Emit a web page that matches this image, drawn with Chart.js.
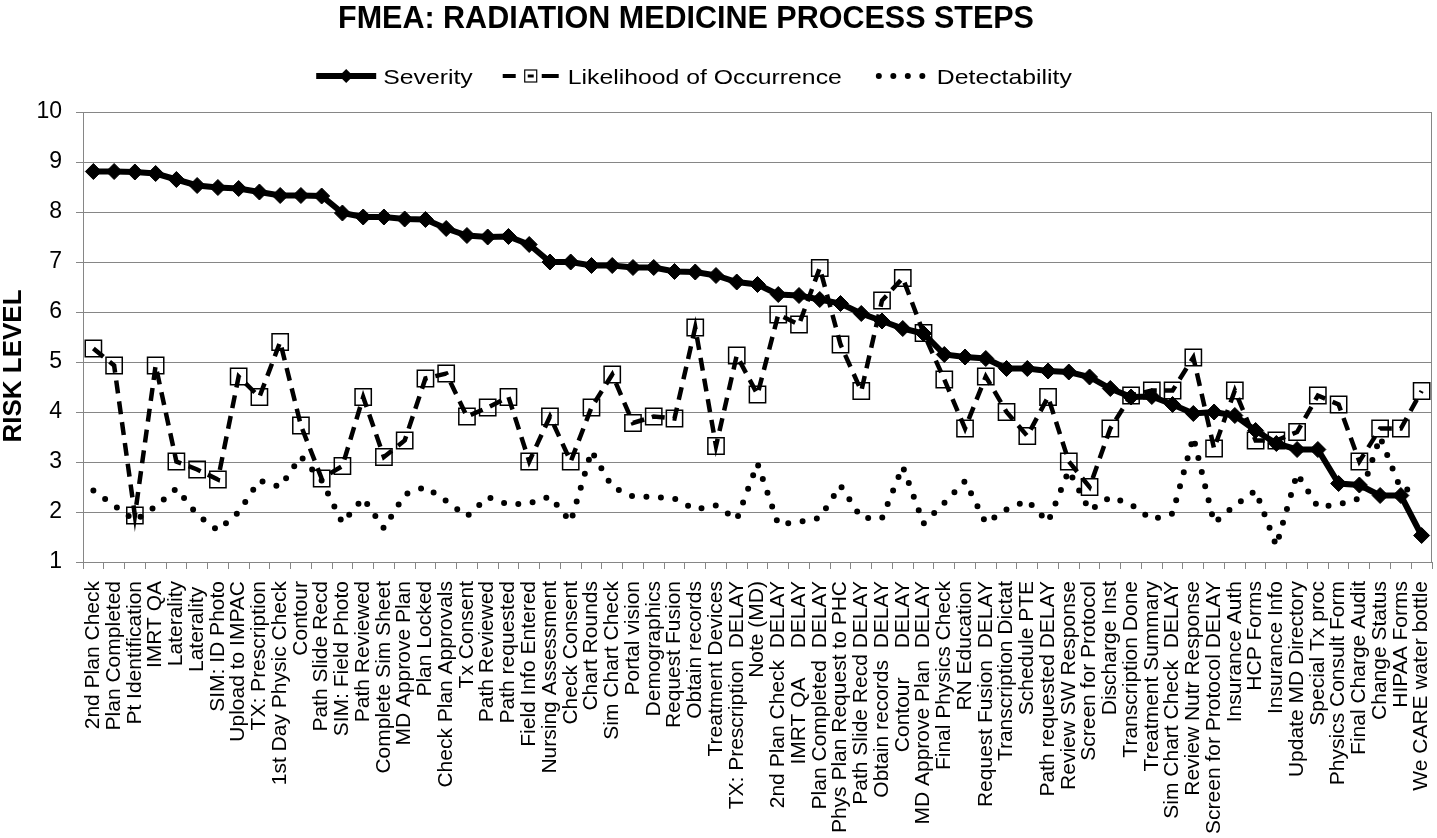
<!DOCTYPE html>
<html>
<head>
<meta charset="utf-8">
<script src="https://cdn.jsdelivr.net/npm/chart.js@4.4.1/dist/chart.umd.min.js"></script>
<style>
html,body{margin:0;padding:0;background:#fff;overflow:hidden;}
#wrap{width:1437px;height:838px;position:relative;}
</style>
</head>
<body>
<div id="wrap"><canvas id="c"></canvas></div>
<script>
const chartTitle = 'FMEA: RADIATION MEDICINE PROCESS STEPS';
const yAxisTitle = 'RISK LEVEL';
const seriesNames = ['Severity', 'Likelihood of Occurrence', 'Detectability'];

const categories = [
  '2nd Plan Check', 'Plan Completed', 'Pt Identification', 'IMRT QA', 'Laterality', 'Laterality ',
  'SIM: ID Photo', 'Upload to IMPAC', 'TX: Prescription', '1st Day Physic Check', 'Contour',
  'Path Slide Recd', 'SIM: Field Photo', 'Path Reviewed', 'Complete Sim Sheet', 'MD Approve Plan',
  'Plan Locked', 'Check Plan Approvals', 'Tx Consent', 'Path Reviewed', 'Path requested',
  'Field Info Entered', 'Nursing Assessment', 'Check Consent', 'Chart Rounds', 'Sim Chart Check',
  'Portal vision', 'Demographics', 'Request Fusion', 'Obtain records', 'Treatment Devices',
  'TX: Prescription  DELAY', 'Note (MD)', '2nd Plan Check  DELAY', 'IMRT QA     DELAY',
  'Plan Completed  DELAY', 'Phys Plan Request to PHC', 'Path Slide Recd DELAY', 'Obtain records  DELAY',
  'Contour     DELAY', 'MD Approve Plan  DELAY', 'Final Physics Check', 'RN Education',
  'Request Fusion  DELAY', 'Transcription Dictat', 'Schedule PTE', 'Path requested DELAY',
  'Review SW Response', 'Screen for Protocol', 'Discharge Inst', 'Transcription Done',
  'Treatment Summary', 'Sim Chart Check  DELAY', 'Review Nutr Response', 'Screen for Protocol DELAY',
  'Insurance Auth', 'HCP Forms', 'Insurance Info', 'Update MD Directory', 'Special Tx proc',
  'Physics Consult Form', 'Final Charge Audit', 'Change Status', 'HIPAA Forms', 'We CARE water bottle'
];

const severity = [
  8.81, 8.81, 8.80, 8.77, 8.65, 8.53, 8.49, 8.47, 8.40, 8.33,
  8.33, 8.32, 7.98, 7.90, 7.90, 7.86, 7.85, 7.67, 7.53, 7.50,
  7.51, 7.35, 7.00, 7.00, 6.93, 6.93, 6.89, 6.89, 6.81, 6.80,
  6.73, 6.60, 6.55, 6.35, 6.33, 6.25, 6.17, 5.97, 5.82, 5.67,
  5.57, 5.15, 5.10, 5.07, 4.87, 4.87, 4.82, 4.80, 4.70, 4.47,
  4.30, 4.31, 4.15, 3.97, 4.00, 3.93, 3.63, 3.37, 3.25, 3.25,
  2.57, 2.54, 2.33, 2.33, 1.53
];

const likelihood = [
  5.27, 4.93, 1.93, 4.93, 3.01, 2.85, 2.65, 4.71, 4.30, 5.40,
  3.73, 2.67, 2.92, 4.30, 3.10, 3.43, 4.67, 4.77, 3.91, 4.09,
  4.30, 3.01, 3.91, 3.01, 4.09, 4.75, 3.78, 3.91, 3.87, 5.69,
  3.32, 5.13, 4.35, 5.95, 5.75, 6.88, 5.35, 4.42, 6.23, 6.68,
  5.58, 4.65, 3.67, 4.71, 4.00, 3.52, 4.30, 3.01, 2.50, 3.67,
  4.33, 4.43, 4.43, 5.09, 3.27, 4.43, 3.43, 3.43, 3.60, 4.33,
  4.15, 3.01, 3.67, 3.67, 4.42
];

const detectability = [
  2.43, 2.13, 1.83, 2.11, 2.47, 1.95, 1.63, 2.00, 2.63, 2.50,
  3.11, 2.63, 1.78, 2.28, 1.67, 2.35, 2.50, 2.22, 1.91, 2.30,
  2.15, 2.17, 2.31, 1.80, 3.22, 2.50, 2.31, 2.30, 2.27, 2.05,
  2.13, 1.85, 2.97, 1.75, 1.80, 1.88, 2.53, 1.88, 1.88, 2.91,
  1.77, 2.18, 2.62, 1.78, 2.05, 2.23, 1.80, 2.83, 2.03, 2.30,
  2.15, 1.85, 1.97, 3.50, 1.78, 2.13, 2.43, 1.32, 2.77, 2.10,
  2.15, 2.27, 3.50, 2.45, 2.45
];

const yTickValues = [1, 2, 3, 4, 5, 6, 7, 8, 9, 10];

const FONT = "'Liberation Sans', Arial, Helvetica, sans-serif";
const GRID = '#868686';
const ZERO_PAD = () => ({ left: 0, top: 0, right: 0, bottom: 0 });

const decor = {
  id: 'decor',
  afterDraw(chart) {
    const ctx = chart.ctx;
    const a = chart.chartArea;
    ctx.save();
    // right border of plot area
    ctx.strokeStyle = GRID;
    ctx.lineWidth = 1;
    ctx.beginPath();
    const rx = Math.round(a.right) - 0.5;
    ctx.moveTo(rx, a.top);
    ctx.lineTo(rx, a.bottom);
    ctx.stroke();

    // title
    ctx.fillStyle = '#000';
    ctx.font = 'bold 30.5px ' + FONT;
    ctx.textAlign = 'center';
    ctx.textBaseline = 'alphabetic';
    ctx.fillText(chartTitle, 686, 28);

    // y axis title
    ctx.save();
    ctx.translate(14, 366);
    ctx.rotate(-Math.PI / 2);
    ctx.font = 'bold 26px ' + FONT;
    ctx.textAlign = 'center';
    ctx.textBaseline = 'middle';
    ctx.fillText(yAxisTitle, 0, 0);
    ctx.restore();

    // legend
    const sx = 1.18, sw = 60, gapT = 7, gapI = 28, ly = 76;
    ctx.font = '21px ' + FONT;
    const widths = seriesNames.map(n => ctx.measureText(n).width * sx);
    let total = 0;
    widths.forEach((w, i) => { total += sw + gapT + w + (i < widths.length - 1 ? gapI : 0); });
    let x = 694 - total / 2;
    seriesNames.forEach((name, i) => {
      ctx.save();
      ctx.strokeStyle = '#000';
      ctx.fillStyle = '#000';
      if (i === 0) {
        ctx.lineWidth = 6;
        ctx.beginPath(); ctx.moveTo(x, ly); ctx.lineTo(x + sw, ly); ctx.stroke();
        const cx = x + sw / 2, r = 7;
        ctx.beginPath();
        ctx.moveTo(cx, ly - r); ctx.lineTo(cx + r, ly); ctx.lineTo(cx, ly + r); ctx.lineTo(cx - r, ly);
        ctx.closePath(); ctx.fill();
      } else if (i === 1) {
        ctx.lineWidth = 4;
        ctx.beginPath(); ctx.moveTo(x + 2, ly); ctx.lineTo(x + 15, ly); ctx.stroke();
        ctx.beginPath(); ctx.moveTo(x + sw - 19, ly); ctx.lineTo(x + sw - 2, ly); ctx.stroke();
        ctx.lineWidth = 1.2;
        ctx.strokeRect(x + sw / 2 - 6, ly - 6, 12, 12);
        ctx.lineWidth = 3;
        ctx.beginPath(); ctx.moveTo(x + sw / 2 - 3, ly); ctx.lineTo(x + sw / 2 + 3, ly); ctx.stroke();
      } else {
        for (let k = 0; k < 4; k++) {
          ctx.beginPath();
          ctx.arc(x + 9 + k * 14.5, ly, 3, 0, Math.PI * 2);
          ctx.fill();
        }
      }
      ctx.translate(x + sw + gapT, ly + 7.5);
      ctx.scale(sx, 1);
      ctx.font = '21px ' + FONT;
      ctx.textAlign = 'left';
      ctx.textBaseline = 'alphabetic';
      ctx.fillText(name, 0, 0);
      ctx.restore();
      x += sw + gapT + widths[i] + gapI;
    });
    ctx.restore();
  }
};

new Chart(document.getElementById('c'), {
  type: 'line',
  data: {
    labels: categories,
    datasets: [
      {
        label: seriesNames[0], data: severity,
        borderColor: '#000', backgroundColor: '#000', borderWidth: 6,
        pointStyle: 'rectRot', pointRadius: 8, pointBackgroundColor: '#000',
        pointBorderColor: '#000', pointBorderWidth: 1, tension: 0, order: 2, clip: 20
      },
      {
        label: seriesNames[1], data: likelihood,
        borderColor: '#000', backgroundColor: 'rgba(0,0,0,0)', borderWidth: 4.5,
        borderDash: [13, 8], pointStyle: 'rect', pointRadius: 11.5,
        pointBackgroundColor: 'rgba(0,0,0,0)', pointBorderColor: '#000',
        pointBorderWidth: 1.5, tension: 0, order: 1, clip: 20
      },
      {
        label: seriesNames[2], data: detectability,
        borderColor: '#000', backgroundColor: '#000', borderWidth: 6,
        borderDash: [0, 14.5], borderCapStyle: 'round', pointRadius: 0,
        tension: 0, order: 0, clip: 20
      }
    ]
  },
  options: {
    responsive: true,
    maintainAspectRatio: false,
    animation: false,
    events: [],
    layout: { autoPadding: false, padding: { top: 112, right: 5, left: 0, bottom: 0 } },
    plugins: {
      legend: { display: false },
      title: { display: false },
      tooltip: { enabled: false }
    },
    scales: {
      x: {
        type: 'category',
        offset: true,
        grid: { display: true, drawOnChartArea: false, drawTicks: true, tickLength: 7, offset: true, color: GRID, lineWidth: 1 },
        border: { display: true, color: GRID, width: 1 },
        ticks: { autoSkip: false, maxRotation: 90, minRotation: 90, padding: 12, color: '#000', font: { family: FONT, size: 21 } },
        afterFit(s) {
          s.height = 276; s.paddingLeft = 0; s.paddingRight = 0;
          s.getPadding = ZERO_PAD;
        }
      },
      y: {
        min: 1, max: 10,
        ticks: { stepSize: 1, padding: 14, color: '#000', font: { family: FONT, size: 23 } },
        afterBuildTicks(s) { s.ticks = yTickValues.map(v => ({ value: v })); },
        grid: { color: GRID, lineWidth: 1, tickLength: 7, drawTicks: true },
        border: { display: true, color: GRID, width: 1 },
        afterFit(s) {
          s.width = 83; s.paddingTop = 0; s.paddingBottom = 0;
          s.getPadding = ZERO_PAD;
        }
      }
    }
  },
  plugins: [decor]
});
</script>
</body>
</html>
